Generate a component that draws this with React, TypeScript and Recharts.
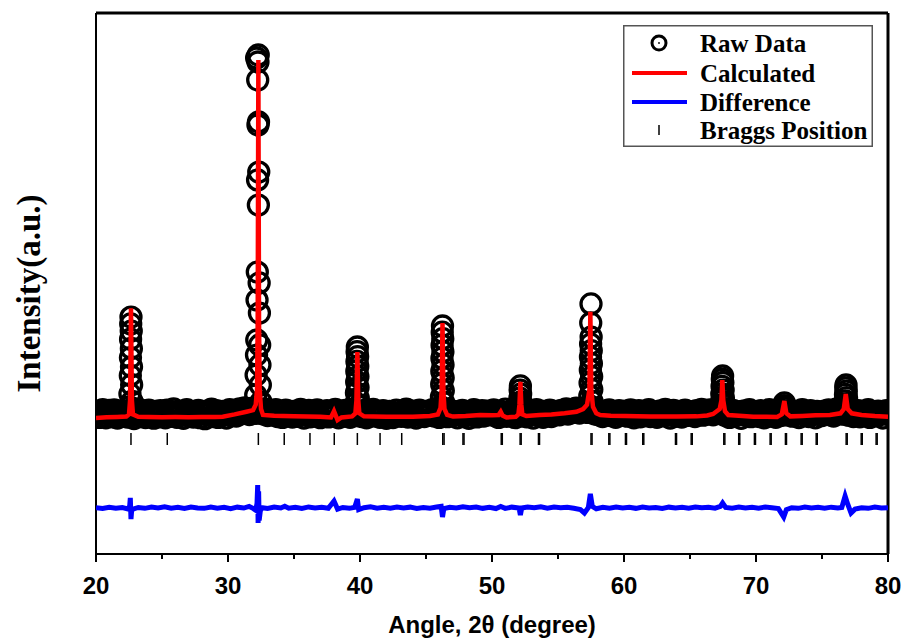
import React from 'react';
import { ComposedChart, Scatter, Line, XAxis, YAxis, Legend, ReferenceLine } from 'recharts';

// step-scan background of the raw pattern, 0.125 deg per point from 20 deg
const scanStart = 20;
const scanStep = 0.125;
const backgroundCounts = [
  291, 318, 262, 305, 334, 277, 259, 312, 327, 284, 268, 331, 303, 256, 296, 322, 274, 309, 287, 265,
  300, 326, 281, 252, 314, 297, 336, 270, 289, 319, 261, 304, 330, 279, 293, 255, 317, 301, 268, 325,
  285, 311, 258, 329, 296, 272, 316, 340, 283, 263, 307, 292, 321, 254, 288, 334, 276, 299, 313, 266,
  303, 280, 327, 260, 315, 294, 251, 320, 286, 309, 338, 271, 297, 324, 262, 306, 282, 318, 290, 257,
  312, 335, 284, 301, 328, 275, 318, 342, 296, 321, 350, 307, 332, 289, 346, 315, 338, 300, 325, 311,
  322, 296, 341, 308, 279, 326, 303, 286, 319, 333, 270, 298, 315, 262, 307, 329, 281, 294, 317, 265,
  298, 321, 273, 309, 336, 284, 256, 315, 290, 327, 268, 302, 319, 277, 331, 295, 260, 312, 286, 305,
  324, 267, 299, 315, 281, 337, 302, 258, 290, 318, 274, 327, 306, 285, 263, 311, 296, 332, 279, 301,
  316, 271, 293, 328, 259, 304, 285, 320, 336, 276, 298, 312, 264, 289, 325, 308, 254, 296, 319, 282,
  261, 307, 329, 284, 300, 272, 315, 291, 338, 266, 303, 323, 278, 294, 257, 312, 330, 287, 305, 270,
  298, 321, 283, 309, 335, 276, 295, 317, 262, 304, 328, 287, 311, 269, 300, 324, 281, 297, 315, 258,
  306, 289, 327, 271, 313, 296, 254, 318, 284, 335, 299, 267, 310, 291, 326, 275, 302, 320, 286, 314,
  295, 331, 277, 308, 262, 319, 303, 287, 339, 272, 298, 315, 283, 326, 260, 305, 322, 290, 311, 276,
  301, 268, 324, 289, 312, 256, 297, 333, 280, 307, 320, 264, 293, 316, 285, 329, 271, 304, 318, 290,
  310, 286, 328, 299, 317, 341, 293, 322, 305, 336, 314, 347, 327, 302, 339, 318, 345, 331, 308, 324,
  335, 312, 296, 328, 289, 317, 303, 270, 321, 294, 308, 332, 279, 299, 316, 263, 304, 326, 285, 311,
  297, 320, 274, 306, 331, 283, 259, 314, 292, 325, 268, 301, 318, 280, 309, 334, 271, 296, 312, 287,
  263, 305, 322, 278, 299, 336, 285, 311, 256, 294, 327, 273, 308, 290, 319, 266, 302, 330, 281, 297,
  316, 289, 306, 271, 324, 298, 312, 337, 283, 304, 320, 295, 331, 309, 286, 318, 327, 301, 314, 322,
  307, 282, 319, 296, 262, 311, 328, 275, 301, 289, 316, 254, 298, 323, 280, 305, 333, 269, 292, 314,
  286, 309, 271, 324, 297, 258, 315, 290, 333, 276, 303, 318, 264, 295, 312, 281, 327, 300, 310, 285,
  299, 327, 274, 306, 290, 318, 261, 302, 335, 284, 297, 313, 270, 325, 288, 306, 259, 319, 293, 311,
  280, 304, 322, 296, 331, 287, 310, 275, 318, 341, 300, 326, 314, 292, 335, 308, 283, 317, 299, 271,
  309, 291, 326, 268, 302, 319, 284, 297, 333, 262, 305, 316, 278, 294, 321, 288, 311, 257, 299, 324,
  290,
];

// raw points on the reflections [2theta, counts]
const peakPoints: [number, number][] = [
  [22.65, 1190], [22.63, 1126], [22.67, 1060], [22.62, 985], [22.68, 900], [22.61, 815], [22.69, 730],
  [22.6, 650], [22.7, 565], [22.57, 480], [22.73, 410], [22.54, 360], [22.77, 345],
  [32.29, 3612], [32.17, 3584], [32.27, 3547], [32.25, 3381], [32.31, 2993], [32.27, 2965], [32.33, 2530],
  [32.24, 2457], [32.3, 2225], [32.22, 1606], [32.36, 1505], [32.2, 1347], [32.38, 1227], [32.18, 978],
  [32.4, 932], [32.16, 839], [32.42, 747], [32.13, 654], [32.45, 562], [32.1, 469], [32.5, 405],
  [39.8, 913], [39.78, 870], [39.82, 825], [39.77, 780], [39.83, 735], [39.76, 690], [39.84, 640],
  [39.75, 590], [39.85, 540], [39.73, 490], [39.87, 440], [39.7, 395], [39.9, 370],
  [46.25, 1107], [46.23, 1050], [46.27, 990], [46.22, 930], [46.28, 870], [46.21, 810], [46.29, 750],
  [46.2, 690], [46.3, 630], [46.19, 570], [46.31, 510], [46.17, 450], [46.34, 400], [46.14, 360],
  [52.15, 553], [52.13, 515], [52.17, 478], [52.11, 440], [52.19, 405], [52.09, 370], [52.22, 350],
  [57.5, 1311], [57.48, 1135], [57.51, 1005], [57.47, 940], [57.52, 880], [57.46, 820], [57.53, 760],
  [57.45, 700], [57.55, 640], [57.43, 580], [57.56, 520], [57.41, 460], [57.58, 410], [57.38, 370], [57.62, 350],
  [67.47, 645], [67.45, 615], [67.49, 585], [67.43, 550], [67.51, 515], [67.41, 480], [67.53, 445],
  [67.39, 410], [67.56, 380], [67.36, 355],
  [72.15, 396], [72.13, 370], [72.18, 350],
  [76.82, 562], [76.8, 535], [76.84, 505], [76.78, 475], [76.86, 445], [76.76, 415], [76.89, 390], [76.73, 365],
];

const calculated: [number, number][] = [
  [20, 257], [20.8, 263], [21.6, 266], [22.3, 270], [22.5, 290], [22.58, 420], [22.65, 1270], [22.72, 420],
  [22.8, 290], [23.2, 268], [24, 266], [25, 265], [26, 266], [27, 265], [28, 266], [29, 267], [29.6, 269],
  [30.5, 290], [31.4, 315], [31.9, 330], [32.1, 380], [32.2, 520], [32.25, 1150], [32.3, 3566], [32.35, 1150],
  [32.4, 520], [32.5, 340], [32.65, 285], [33.5, 278], [34.2, 275], [35, 272], [36, 270], [37, 268],
  [37.8, 262], [38.03, 321], [38.3, 238], [38.6, 262], [39.4, 272], [39.65, 300], [39.73, 420], [39.8, 867],
  [39.87, 420], [39.95, 300], [40.3, 272], [41, 270], [42, 269], [43, 268], [44, 268], [45.3, 275],
  [45.9, 290], [46.1, 350], [46.18, 500], [46.25, 1135], [46.32, 500], [46.4, 340], [46.6, 285], [47.05, 270],
  [48, 275], [49.1, 285], [50, 282], [50.5, 285], [50.66, 315], [50.8, 280], [51.1, 262], [51.8, 268],
  [52.0, 290], [52.08, 380], [52.15, 590], [52.22, 380], [52.3, 290], [52.6, 275], [53.6, 285], [54.5, 290],
  [55.5, 300], [56.4, 315], [56.9, 340], [57.2, 380], [57.38, 520], [57.45, 1239], [57.52, 520], [57.65, 360],
  [57.9, 300], [58.2, 285], [59, 278], [60.1, 276], [61, 272], [62, 270], [63, 271], [64, 270], [65.5, 272],
  [66.3, 280], [66.75, 294], [67.25, 340], [67.38, 420], [67.45, 608], [67.52, 420], [67.65, 320], [67.9, 285],
  [69, 275], [69.8, 269], [70.8, 268], [71.6, 266], [71.95, 290], [72.15, 414], [72.3, 300], [72.6, 272],
  [73.5, 276], [74.5, 282], [75.6, 285], [76.4, 300], [76.65, 340], [76.8, 479], [76.95, 340], [77.25, 300],
  [78, 285], [79, 275], [80, 269],
];

const difference: [number, number][] = [
  [20, -572], [20.5, -580], [21, -568], [21.5, -578], [22, -571], [22.4, -583], [22.55, -560], [22.6, -482],
  [22.65, -677], [22.7, -600], [22.8, -585], [23.2, -570], [23.7, -578], [24.2, -566], [24.7, -575],
  [25.2, -563], [25.7, -577], [26.2, -569], [26.7, -580], [27.2, -566], [27.7, -574], [28.2, -578],
  [28.7, -565], [29.2, -576], [29.7, -569], [30.2, -581], [30.7, -567], [31.2, -575], [31.6, -560],
  [31.9, -578], [32.1, -595], [32.2, -530], [32.25, -362], [32.28, -713], [32.32, -420], [32.36, -690],
  [32.45, -600], [32.6, -572], [33, -580], [33.5, -566], [34, -575], [34.3, -558], [34.6, -577], [35.1, -568],
  [35.6, -579], [36.1, -565], [36.6, -574], [37.1, -568], [37.6, -577], [38.03, -510], [38.3, -585],
  [38.7, -570], [39.2, -578], [39.6, -568], [39.8, -492], [39.9, -590], [40.3, -572], [40.8, -564],
  [41.3, -577], [41.8, -569], [42.3, -576], [42.8, -566], [43.3, -574], [43.8, -567], [44.3, -579],
  [44.8, -570], [45.3, -576], [45.8, -565], [46.15, -560], [46.25, -658], [46.35, -580], [46.8, -568],
  [47.3, -575], [47.8, -563], [48.3, -572], [48.8, -566], [49.3, -578], [49.8, -569], [50.3, -580],
  [50.66, -560], [51, -578], [51.5, -567], [52.05, -575], [52.15, -640], [52.25, -575], [52.7, -566],
  [53.2, -573], [53.7, -564], [54.2, -576], [54.7, -566], [55.2, -573], [55.7, -568], [56.2, -577],
  [56.7, -590], [57.0, -621], [57.3, -570], [57.45, -445], [57.6, -560], [57.9, -582], [58.4, -568],
  [58.9, -576], [59.4, -565], [59.9, -574], [60.4, -568], [60.9, -578], [61.4, -566], [61.9, -575],
  [62.4, -570], [62.9, -579], [63.4, -567], [63.9, -574], [64.4, -569], [64.9, -577], [65.4, -566],
  [65.9, -573], [66.4, -568], [66.9, -577], [67.3, -560], [67.47, -529], [67.7, -570], [68.2, -577],
  [68.7, -566], [69.2, -574], [69.7, -568], [70.2, -576], [70.7, -566], [71.2, -573], [71.7, -580],
  [72.1, -658], [72.3, -590], [72.7, -572], [73.2, -578], [73.7, -566], [74.2, -574], [74.7, -569],
  [75.2, -577], [75.7, -567], [76.2, -574], [76.5, -570], [76.75, -464], [76.95, -540], [77.2, -621],
  [77.5, -585], [78, -572], [78.5, -578], [79, -566], [79.5, -575], [80, -572],
];

const braggPositions = [
  22.65, 25.4, 32.3, 34.26, 36.21, 38.05, 39.8, 41.52, 43.16, 46.27, 46.37, 47.8, 47.88, 50.7, 50.78,
  52.13, 52.21, 53.52, 53.6, 57.5, 57.58, 58.85, 58.93, 60.11, 60.19, 61.42, 61.5, 63.9, 63.98, 65.09,
  65.17, 67.56, 67.64, 68.69, 68.77, 69.88, 69.96, 71.07, 71.15, 72.23, 72.31, 73.42, 73.5, 74.56, 74.64,
  76.83, 76.91, 77.97, 78.05, 79.1, 79.18,
];
const braggLevel = 63;

const xTicks = [20, 25, 30, 35, 40, 45, 50, 55, 60, 65, 70, 75, 80];

const observedData = [
  ...backgroundCounts.map((y, i) => ({ x: scanStart + i * scanStep, y })),
  ...peakPoints.map(([x, y]) => ({ x, y })),
];
const calcData = calculated.map(([x, y]) => ({ x, y }));
const diffData = difference.map(([x, y]) => ({ x, y }));
const braggData = braggPositions.map(x => ({ x, y: braggLevel }));

const sans = '"Liberation Sans", Arial, sans-serif';
const serif = '"Liberation Serif", "Times New Roman", serif';

function AngleTick({ x, y, payload }: any) {
  const major = payload.value % 10 === 0;
  return (
    <g>
      <line x1={x} y1={y} x2={x} y2={y + (major ? 8 : 5)} stroke="#000" strokeWidth={2} />
      {major && (
        <text x={x} y={y + 40} textAnchor="middle" fontFamily={sans} fontWeight="bold" fontSize={24} fill="#000">
          {payload.value}
        </text>
      )}
    </g>
  );
}

const RawCircle = (p: any) => (
  <circle cx={p.cx} cy={p.cy} r={10} fill="none" stroke="#000" strokeWidth={3.3} />
);

const BraggTick = (p: any) => (
  <line x1={p.cx} x2={p.cx} y1={p.cy - 6} y2={p.cy + 6} stroke="#000" strokeWidth={1.5} />
);

function LegendBox() {
  const label = { fontFamily: serif, fontWeight: 'bold' as const, fontSize: 25, fill: '#000' };
  return (
    <svg width={250} height={122} style={{ display: 'block' }}>
      <rect x={0.75} y={0.75} width={248.5} height={120.5} fill="#fff" stroke="#555" strokeWidth={1.5} />
      <circle cx={36} cy={18} r={7} fill="none" stroke="#000" strokeWidth={3} />
      <circle cx={36} cy={18} r={0.9} fill="#000" />
      <text x={77} y={18} dominantBaseline="central" {...label}>Raw Data</text>
      <line x1={9} x2={64} y1={48} y2={48} stroke="#f00" strokeWidth={4} />
      <text x={77} y={48} dominantBaseline="central" {...label}>Calculated</text>
      <line x1={9} x2={64} y1={77} y2={77} stroke="#00f" strokeWidth={4} />
      <text x={77} y={77} dominantBaseline="central" {...label}>Difference</text>
      <line x1={36} x2={36} y1={100} y2={110} stroke="#000" strokeWidth={1.5} />
      <text x={77} y={105} dominantBaseline="central" {...label}>Braggs Position</text>
    </svg>
  );
}

export default function App() {
  return (
    <div style={{ position: 'absolute', left: 0, top: 0, background: '#fff' }}>
      <ComposedChart width={903} height={639} margin={{ top: 13, right: 15, bottom: 0, left: 0 }}>
        <XAxis
          dataKey="x"
          type="number"
          domain={[20, 80]}
          ticks={xTicks}
          interval={0}
          allowDataOverflow
          tick={<AngleTick />}
          tickLine={false}
          tickSize={0}
          tickMargin={0}
          height={85}
          axisLine={{ stroke: '#000', strokeWidth: 2 }}
          label={{
            content: ({ viewBox }: any) => (
              <text
                x={viewBox.x + viewBox.width / 2}
                y={viewBox.y + 79}
                textAnchor="middle"
                fontFamily={sans}
                fontWeight="bold"
                fontSize={24}
                fill="#000"
              >
                Angle, 2θ (degree)
              </text>
            ),
          }}
        />
        <YAxis
          dataKey="y"
          type="number"
          domain={[-1000, 4000]}
          allowDataOverflow
          width={96}
          tick={false}
          tickLine={false}
          axisLine={{ stroke: '#000', strokeWidth: 2 }}
          label={{
            content: ({ viewBox }: any) => {
              const cx = viewBox.x + 29;
              const cy = viewBox.y + viewBox.height / 2 + 10;
              return (
                <text
                  x={cx}
                  y={cy}
                  transform={`rotate(-90 ${cx} ${cy})`}
                  textAnchor="middle"
                  dominantBaseline="central"
                  fontFamily={serif}
                  fontWeight="bold"
                  fontSize={33}
                  fill="#000"
                >
                  Intensity(a.u.)
                </text>
              );
            },
          }}
        />
        <ReferenceLine y={4000} stroke="#000" strokeWidth={3} />
        <ReferenceLine x={80} stroke="#000" strokeWidth={3} />
        <Legend
          layout="horizontal"
          verticalAlign="middle"
          align="center"
          wrapperStyle={{ left: 623, top: 25, width: 250, height: 122 }}
          content={() => <LegendBox />}
        />
        <Scatter
          name="Raw Data"
          data={observedData}
          dataKey="y"
          shape={RawCircle}
          isAnimationActive={false}
          zIndex={100}
        />
        <Line
          name="Calculated"
          data={calcData}
          dataKey="y"
          type="linear"
          stroke="#ff0000"
          strokeWidth={4.5}
          dot={false}
          activeDot={false}
          isAnimationActive={false}
          zIndex={700}
        />
        <Line
          name="Difference"
          data={diffData}
          dataKey="y"
          type="linear"
          stroke="#0000ff"
          strokeWidth={5}
          dot={false}
          activeDot={false}
          isAnimationActive={false}
          zIndex={700}
        />
        <Scatter
          name="Braggs Position"
          data={braggData}
          dataKey="y"
          shape={BraggTick}
          isAnimationActive={false}
          zIndex={700}
        />
      </ComposedChart>
    </div>
  );
}
